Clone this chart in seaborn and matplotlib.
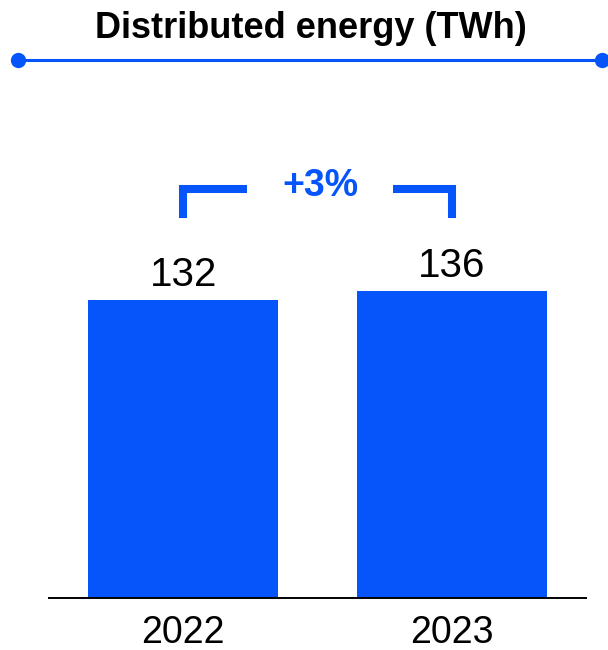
import matplotlib
matplotlib.use("Agg")
import matplotlib.pyplot as plt
import seaborn as sns
import pandas as pd
from matplotlib.lines import Line2D

# Chart data
years = ["2022", "2023"]
energy_twh = [132, 136]
title = "Distributed energy (TWh)"

BLUE = "#0655FB"

sns.set_theme(style="white")
plt.rcParams["font.family"] = ["Liberation Sans", "DejaVu Sans"]

W, H = 608, 650
fig = plt.figure(figsize=(W / 100, H / 100), dpi=100)
ax = fig.add_axes([49 / W, 52 / H, 537 / W, 598 / H])
ax.patch.set_alpha(0)

df = pd.DataFrame({"year": years, "energy": energy_twh})
sns.barplot(data=df, x="year", y="energy", color=BLUE, saturation=1,
            width=0.708, linewidth=0, ax=ax)

ax.set_xlim(-0.5, 1.5)
ax.set_ylim(0, 264.6)
ax.set_xlabel("")
ax.set_ylabel("")
ax.set_yticks([])
for side in ("left", "top", "right"):
    ax.spines[side].set_visible(False)
ax.spines["bottom"].set_color("black")
ax.spines["bottom"].set_linewidth(1.4)
ax.tick_params(axis="x", length=0, pad=12, labelsize=27, colors="black")

# Value labels above the bars
for i, v in enumerate(energy_twh):
    ax.annotate(f"{v}", (i, v), xytext=(0, 9.7), textcoords="offset points",
                ha="center", va="baseline", fontsize=29, color="black")

# Growth bracket between the two bars
peak = max(energy_twh)
top = peak + 45
bottom = peak + 32
bracket = dict(color=BLUE, lw=5.8, solid_capstyle="butt",
               solid_joinstyle="miter", clip_on=False)
ax.plot([0, 0, 0.237], [bottom, top, top], **bracket)
ax.plot([0.782, 1, 1], [top, top, bottom], **bracket)
growth = round((energy_twh[1] - energy_twh[0]) / energy_twh[0] * 100)
ax.text(0.51, top - 3, f"+{growth}%", ha="center", va="baseline",
        fontsize=27, fontweight="bold", color=BLUE)

# Title with underline rule
fig.text(310.7 / W, 1 - 38.5 / H, title, ha="center", va="baseline",
         fontsize=26, fontweight="bold", color="black")
fig.add_artist(Line2D([18.3 / W, 601.7 / W], [1 - 60 / H] * 2,
                      transform=fig.transFigure, color=BLUE, lw=2.2,
                      marker="o", markersize=11, markeredgewidth=0))

fig.savefig("out.png", dpi=100)
